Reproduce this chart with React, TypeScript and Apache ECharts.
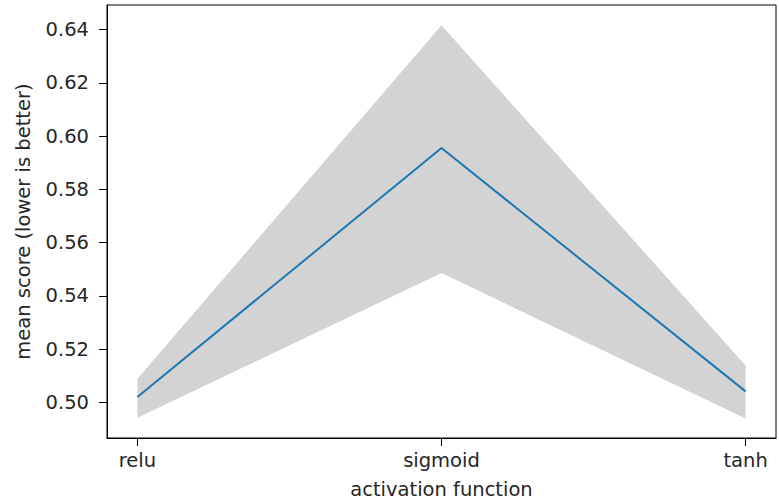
import React, { useEffect, useRef } from "react";
import * as echarts from "echarts";

// Activation functions compared along the x axis
const categories = ["relu", "sigmoid", "tanh"];
// Mean score per activation function
const meanScore = [0.5021, 0.5955, 0.5042];
// Confidence band limits
const upperBound = [0.5089, 0.6416, 0.5139];
const lowerBound = [0.4943, 0.5486, 0.494];
// Y tick labels
const yTicks = [0.5, 0.52, 0.54, 0.56, 0.58, 0.6, 0.62, 0.64];
const xTicks = [0, 1, 2];

const FONT = "DejaVu Sans";
const TEXT = "#262626";
const SIZE = 19.5;

export default function App() {
  const ref = useRef<HTMLDivElement>(null);

  useEffect(() => {
    if (!ref.current) return;
    const chart = echarts.init(ref.current, null, { renderer: "svg" });

    const bandData = categories.map((_, i) => [i, lowerBound[i], upperBound[i]]);

    chart.setOption({
      animation: false,
      backgroundColor: "#ffffff",
      grid: {
        left: 107,
        right: 3,
        top: 5,
        bottom: 62,
        show: true,
        borderColor: "#000",
        borderWidth: 1,
        backgroundColor: "#fff",
      },
      xAxis: {
        type: "value",
        min: -0.1,
        max: 2.1,
        splitLine: { show: false },
        axisLine: { show: true, onZero: false, lineStyle: { color: "#000", width: 1 } },
        axisTick: {
          show: true,
          length: 8,
          customValues: xTicks,
          lineStyle: { color: "#000", width: 1 },
        },
        axisLabel: {
          customValues: xTicks,
          formatter: (v: number) => categories[Math.round(v)] ?? "",
          fontFamily: FONT,
          fontSize: SIZE,
          color: TEXT,
          margin: 12,
        },
        name: "activation function",
        nameLocation: "middle",
        nameGap: 41,
        nameTextStyle: { fontFamily: FONT, fontSize: SIZE, color: TEXT },
      },
      yAxis: {
        type: "value",
        min: 0.4867,
        max: 0.6492,
        splitLine: { show: false },
        axisLine: { show: true, onZero: false, lineStyle: { color: "#000", width: 1 } },
        axisTick: {
          show: true,
          length: 8,
          customValues: yTicks,
          lineStyle: { color: "#000", width: 1 },
        },
        axisLabel: {
          customValues: yTicks,
          formatter: (v: number) => v.toFixed(2),
          fontFamily: FONT,
          fontSize: SIZE,
          color: TEXT,
          margin: 18,
        },
        name: "mean score (lower is better)",
        nameLocation: "middle",
        nameRotate: 90,
        nameGap: 74,
        nameTextStyle: { fontFamily: FONT, fontSize: SIZE, color: TEXT },
      },
      series: [
        {
          type: "custom",
          name: "band",
          data: bandData,
          encode: { x: 0, y: [1, 2] },
          silent: true,
          z: 1,
          renderItem: (params: any, api: any) => {
            if (params.dataIndex !== 0) return null;
            const pts: number[][] = [];
            for (let i = 0; i < categories.length; i++) {
              pts.push(api.coord([i, upperBound[i]]));
            }
            for (let i = categories.length - 1; i >= 0; i--) {
              pts.push(api.coord([i, lowerBound[i]]));
            }
            return {
              type: "polygon",
              shape: { points: pts },
              style: { fill: "#d3d3d3", stroke: "none" },
            };
          },
        },
        {
          type: "line",
          name: "mean",
          data: categories.map((_, i) => [i, meanScore[i]]),
          showSymbol: false,
          symbol: "none",
          z: 3,
          lineStyle: { color: "#1f77b4", width: 2 },
        },
      ],
    });

    return () => chart.dispose();
  }, []);

  return (
    <div
      ref={ref}
      style={{ position: "absolute", left: 0, top: 0, width: 779, height: 504 }}
    />
  );
}
